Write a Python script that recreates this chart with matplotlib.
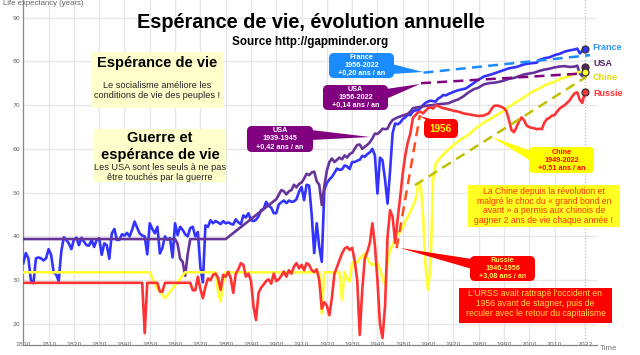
import matplotlib
matplotlib.use("Agg")
import matplotlib.pyplot as plt
from matplotlib.patches import FancyBboxPatch, Polygon, Rectangle

# ---------------- DATA ----------------
france_years = list(range(1800, 1969)) + [1970, 1972, 1975, 1978, 1980, 1982, 1985, 1988, 1990,
                                          1992, 1995, 1998, 2000, 2003, 2004, 2006, 2008, 2010,
                                          2012, 2014, 2016, 2018, 2019, 2020, 2021, 2022]
france_values = [
    33.9, 36.2, 35.0, 30.0, 29.3, 35.0, 35.2, 35.0, 34.5, 35.0,   # 1800
    37.1, 35.8, 31.8, 31.3, 29.8, 36.5, 39.8, 39.2, 38.4, 37.1,   # 1810
    39.3, 39.7, 38.0, 39.7, 38.8, 38.0, 37.9, 39.2, 37.6, 39.2,   # 1820
    39.6, 35.8, 38.4, 38.0, 34.9, 40.7, 41.7, 39.2, 39.2, 40.5,   # 1830
    40.2, 40.8, 40.0, 41.5, 43.4, 42.0, 40.7, 40.2, 40.0, 35.9,   # 1840
    43.0, 41.7, 40.7, 42.2, 36.1, 37.4, 40.0, 39.2, 39.6, 35.2,   # 1850
    43.0, 40.3, 42.2, 41.5, 40.5, 40.0, 41.9, 42.2, 40.0, 41.0,   # 1860
    33.0, 29.5, 42.5, 42.2, 43.7, 43.0, 43.5, 43.2, 42.8, 43.5,   # 1870
    43.0, 43.2, 42.9, 42.7, 43.9, 43.2, 42.8, 44.8, 44.3, 45.3,   # 1880
    43.7, 43.5, 43.8, 44.6, 46.0, 46.3, 47.9, 47.0, 46.6, 45.3,   # 1890
    45.3, 47.3, 47.8, 48.2, 47.6, 48.2, 47.9, 48.0, 48.5, 50.2,   # 1900
    51.3, 48.3, 51.8, 51.6, 45.0, 36.2, 43.0, 37.6, 34.2, 50.6,   # 1910
    52.2, 53.0, 53.6, 54.5, 55.5, 55.2, 55.3, 56.2, 56.0, 55.4,   # 1920
    57.0, 57.0, 57.3, 57.5, 58.4, 58.2, 58.8, 59.2, 60.0, 58.5,   # 1930
    49.8, 58.0, 57.4, 53.0, 47.5, 55.0, 63.6, 65.8, 65.6, 66.0,   # 1940
    66.8, 67.2, 67.8, 67.7, 68.5, 68.8, 68.8, 69.3, 70.0, 70.5,   # 1950
    70.8, 71.0, 70.9, 70.8, 71.5, 71.8, 72.3, 72.2, 72.5,         # 1960-1968
    73.0, 73.4, 73.8, 75.0, 75.8, 76.5, 77.0, 77.6, 78.0,
    78.4, 78.7, 79.3, 79.5, 79.7, 80.3, 80.7, 80.9, 81.4,
    81.7, 82.2, 82.5, 82.7, 82.9, 81.8, 82.4, 82.8]

usa_years = [1800, 1860, 1861, 1862, 1863, 1864, 1865, 1866, 1880, 1900] + list(range(1901, 1957)) + \
    [1958, 1960, 1962, 1964, 1966, 1968, 1970, 1972, 1974, 1976, 1978, 1980, 1982, 1984, 1986,
     1988, 1990, 1992, 1994, 1996, 1998, 2000, 2002, 2004, 2006, 2008, 2010, 2012, 2014, 2016,
     2018, 2019, 2020, 2021, 2022]
usa_values = [39.4, 39.4, 38.3, 34.9, 34.2, 31.0, 36.0, 39.4, 39.4, 48.5,
    49.5, 50.6, 50.3, 49.6, 50.3, 50.6, 51.8, 51.2, 52.0,          # 1901-1909
    52.3, 53.2, 54.3, 54.0, 54.6, 54.8, 52.6, 51.8, 47.2, 51.5,    # 1910
    55.0, 57.0, 57.8, 57.0, 57.5, 58.0, 57.6, 58.5, 58.0, 58.8,    # 1920
    59.1, 60.0, 60.9, 61.0, 60.0, 60.5, 60.9, 61.5, 62.4, 63.5,    # 1930
    63.4, 63.9, 64.6, 64.5, 64.6, 65.8, 66.6, 66.9, 67.2, 67.4,    # 1940
    67.6, 67.8, 68.0, 68.5, 69.3, 69.4, 69.5,                      # 1950-1956
    69.7, 69.9, 70.0, 70.2, 70.3, 70.4, 70.9, 71.3, 72.0, 72.9, 73.6, 74.0, 74.7, 75.0, 75.1,
    75.3, 75.6, 76.0, 76.2, 76.6, 77.0, 77.2, 77.4, 77.8, 78.1, 78.3, 78.6, 78.8, 78.9, 78.7,
    78.8, 79.0, 77.2, 76.6, 78.8]

china_years = [1800, 1850, 1851, 1853, 1854, 1856, 1864, 1876, 1877, 1878, 1879, 1880, 1917, 1918,
               1919, 1925, 1926, 1927] + list(range(1928, 1965)) + \
    [1966, 1968, 1970, 1972, 1974, 1976, 1978, 1980, 1982, 1984, 1986, 1988, 1990, 1992, 1994,
     1996, 1998, 2000, 2002, 2004, 2006, 2008, 2010, 2012, 2014, 2016, 2018, 2020, 2022]
china_values = [31.8, 31.8, 30.5, 28.0, 27.5, 25.9, 31.8, 31.8, 27.5, 25.1, 29.5, 31.8, 31.8, 22.4,
                31.8, 31.8, 25.5, 31.8,
    30.5, 29.7, 33.9, 34.3, 34.0, 35.0, 35.5, 36.1, 35.0, 33.9, 33.5, 33.7,   # 1928-1939
    33.9, 32.4, 30.5, 28.9, 34.3, 37.0, 38.0, 39.5, 40.3, 41.1,               # 1940
    42.0, 43.4, 44.5, 45.6, 47.0, 48.3, 51.3, 52.5, 45.0, 33.0,               # 1950
    27.8, 33.0, 53.0, 56.5, 57.5,                                             # 1960-1964
    58.7, 59.8, 60.8, 61.8, 62.5, 63.2, 64.3, 65.2, 66.0, 66.6, 67.3, 68.0, 68.7, 69.6, 70.4,
    71.0, 71.8, 72.6, 73.3, 73.8, 74.5, 74.9, 75.3, 75.9, 76.3, 76.7, 77.1, 77.6, 77.6]

russia_years = [1800, 1847, 1848, 1849, 1853, 1854, 1855, 1856, 1866] + list(range(1867, 1970)) + \
    [1970, 1972, 1974, 1976, 1978, 1980, 1982, 1984] + list(range(1985, 2023))
russia_values = [29.4, 29.4, 17.9, 29.4, 29.4, 27.4, 27.4, 29.4, 29.4,
    27.7, 27.7, 30.8,                                              # 1867-1869
    28.0, 25.9, 28.5, 30.4, 30.0, 31.2, 31.5, 30.5, 27.8, 31.2,    # 1870
    30.8, 31.9, 30.5, 27.1, 31.5, 32.5, 33.9, 33.5, 30.8, 31.5,    # 1880
    29.9, 24.0, 20.9, 27.1, 28.3, 29.0, 29.8, 30.2, 29.2, 31.5,    # 1890
    29.8, 30.2, 31.0, 32.0, 30.8, 32.3, 31.5, 33.1, 33.9, 32.7,    # 1900
    33.5, 32.3, 33.9, 33.5, 32.3, 31.9, 32.5, 30.0, 23.5, 25.0,    # 1910
    24.2, 22.0, 26.0, 31.5, 33.0, 34.6, 36.1, 37.2, 37.6, 36.9,    # 1920
    37.4, 34.5, 30.0, 17.5, 27.8, 35.0, 36.5, 38.5, 43.0, 38.0,    # 1930
    30.0, 20.0, 16.8, 24.0, 40.0, 46.0, 44.5, 38.5, 44.0, 49.0,    # 1940
    54.4, 58.5, 61.5, 63.5, 67.0, 67.7, 68.3, 68.5, 68.1, 68.7,    # 1950
    69.3, 69.5, 69.2, 69.9, 69.8, 69.5, 69.3, 69.2, 69.0, 68.9,    # 1960
    68.7, 68.5, 68.1, 67.9, 67.7, 67.5, 67.6, 68.1,
    69.0, 69.8, 69.9, 69.8, 69.6, 69.3, 68.6, 66.6, 64.3, 63.8,    # 1985-1994
    65.0, 66.3, 67.2, 66.5, 65.3, 65.0, 64.8, 64.7, 64.5, 64.6,    # 1995-2004
    64.5, 66.0, 66.8, 67.1, 67.6, 67.7, 68.5, 69.2, 69.6, 70.0,    # 2005-2014
    70.5, 71.1, 72.0, 72.7, 72.9, 71.2, 70.5, 72.9]                # 2015-2022

# hand-drawn trend lines of the original chart
france_trend_years = [1958.2, 2024.0]
france_trend_values = [77.4, 81.4]
usa_trend_years = [1957.2, 2020.8]
usa_trend_values = [75.0, 77.2]
china_trend_years = [1954.8, 2022.7]
china_trend_values = [51.7, 76.5]
russia_trend_years = [1947.6, 1956.8]
russia_trend_values = [37.3, 67.7]

x_ticks = list(range(1800, 2011, 10)) + [2022]
y_ticks = [20, 30, 40, 50, 60, 70, 80, 90]

# ---------------- FIGURE ----------------
W, H = 640, 355
FONT = "Liberation Sans"
fig = plt.figure(figsize=(W / 100, H / 100), dpi=100)
ax = fig.add_axes([23.3 / W, 10 / H, (597 - 23.3) / W, 345 / H])
ax.set_xlim(1800, 2026.8)
ax.set_ylim(15.2, 94.0)

ax.set_xticks(x_ticks)
ax.set_yticks(y_ticks)
ax.set_xticklabels([str(t) for t in x_ticks])
ax.grid(True, color="#e6e6e6", lw=0.9, zorder=0)
ax.set_axisbelow(True)
xgl = ax.get_xgridlines()
xgl[-1].set_linestyle((0, (1, 1.5)))
xgl[-1].set_color("#bbbbbb")
for s in ["top", "right"]:
    ax.spines[s].set_visible(False)
for s in ["left", "bottom"]:
    ax.spines[s].set_color("#888888")
    ax.spines[s].set_linewidth(0.9)
ax.tick_params(axis="x", length=0, pad=-2.2, labelsize=4.4, labelcolor="#666666")
ax.tick_params(axis="y", length=0, pad=2, labelsize=4.4, labelcolor="#666666")

LW = 1.9
ax.plot(france_years, france_values, color="#3333ff", lw=LW, solid_joinstyle="round", zorder=3)
ax.plot(usa_years, usa_values, color="#663399", lw=LW, solid_joinstyle="round", zorder=3)
ax.plot(china_years, china_values, color="#ffff33", lw=LW, solid_joinstyle="round", zorder=3)
ax.plot(russia_years, russia_values, color="#ff3333", lw=LW, solid_joinstyle="round", zorder=4)

DASH = (0, (4, 2.5))
ax.plot(france_trend_years, france_trend_values, color="#1a8cff", lw=1.8, ls=DASH, zorder=5)
ax.plot(usa_trend_years, usa_trend_values, color="#800080", lw=1.8, ls=DASH, zorder=5)
ax.plot(china_trend_years, china_trend_values, color="#c0c000", lw=1.8, ls=DASH, zorder=5)
ax.plot(russia_trend_years, russia_trend_values, color="#ff4d1a", lw=1.8, ls=DASH, zorder=5)

for yrs, vals, col in [(france_years, france_values, "#3333ff"),
                       (usa_years, usa_values, "#552266"),
                       (china_years, china_values, "#ffff33"),
                       (russia_years, russia_values, "#ff3333")]:
    ax.plot([yrs[-1]], [vals[-1]], "o", ms=5, mfc=col, mec="#333333", mew=0.9,
            zorder=6, clip_on=False)

# ---------------- OVERLAY (pixel coordinates) ----------------
ov = fig.add_axes([0, 0, 1, 1])
ov.set_xlim(0, W)
ov.set_ylim(H, 0)
ov.axis("off")
ov.patch.set_alpha(0)


def txt(x, y, s, size, color="black", bold=False, ha="center", va="center"):
    ov.text(x, y, s, fontsize=size, color=color, ha=ha, va=va, family=FONT,
            fontweight="bold" if bold else "normal", zorder=5)


def lines(x, ys, strings, size, color="black", bold=False):
    for y, s in zip(ys, strings):
        txt(x, y, s, size, color=color, bold=bold)


def callout(x0, y0, w, h, fc, pointer, strings, tcolor, size=5.2):
    ov.add_patch(Polygon(pointer, closed=True, fc=fc, ec="none", zorder=2))
    ov.add_patch(FancyBboxPatch((x0, y0), w, h, boxstyle="round,pad=0,rounding_size=5",
                                fc=fc, ec="none", zorder=3))
    n = len(strings)
    step = 8.0
    yc = y0 + h / 2
    ys = [yc + (i - (n - 1) / 2) * step for i in range(n)]
    lines(x0 + w / 2, ys, strings, size, color=tcolor, bold=True)


txt(3, 3.5, "Life expectancy (years)", 5.6, color="#666666", ha="left")
txt(600, 349, "Time", 5.8, color="#777777", ha="left")

txt(311, 23, "Espérance de vie, évolution annuelle", 14.3, bold=True)
txt(310, 42, "Source http://gapminder.org", 8.4, bold=True)

ov.add_patch(Rectangle((91, 52), 132, 56, fc="#ffffcc", ec="none"))
txt(157, 63, "Espérance de vie", 10.5, bold=True)
lines(157, [86, 96], ["Le socialisme améliore les", "conditions de vie des peuples !"],
      6.6, color="#222222")

ov.add_patch(Rectangle((94, 129), 132, 53, fc="#ffffcc", ec="none"))
lines(160, [138, 155], ["Guerre et", "espérance de vie"], 10.5, bold=True)
lines(160, [168, 178], ["Les USA sont les seuls à ne pas", "être touchés par la guerre"],
      6.6, color="#222222")

callout(329, 53, 65, 25, "#1a8cff", [(392, 64), (392, 74), (423, 72)],
        ["France", "1956-2022", "+0,20 ans / an"], "white")
callout(323, 85, 65, 25, "#800080", [(386, 89), (386, 99), (420, 84)],
        ["USA", "1956-2022", "+0,14 ans / an"], "white")
callout(247, 126, 66, 26, "#800080", [(311, 130), (311, 140), (370, 137)],
        ["USA", "1939-1945", "+0,42 ans / an"], "white")
callout(424, 119, 34, 19, "#ff0000", [(426, 120), (434, 120), (420, 116)],
        ["1956"], "#ffff00", size=7.2)
callout(529, 147, 65, 26, "#ffff00", [(531, 151), (531, 161), (492, 137)],
        ["Chine", "1949-2022", "+0,51 ans / an"], "#ff0000")
callout(470, 256, 65, 25, "#ff0000", [(472, 259), (472, 269), (400, 248)],
        ["Russie", "1946-1956", "+3,08 ans / an"], "#ffee55")

ov.add_patch(Rectangle((468, 185), 152, 42, fc="#ffff22", ec="none"))
lines(544, [191.7, 201, 210.7, 220.3],
      ["La Chine depuis la révolution et", "malgré le choc du « grand bond en",
       "avant » a permis aux chinois de", "gagner 2 ans de vie chaque année !"],
      6.2, color="#ff3300")
ov.add_patch(Rectangle((459, 288), 153, 35, fc="#ff0000", ec="none"))
lines(535.5, [294, 303.5, 313.3],
      ["L'URSS avait rattrapé l'occident en", "1956 avant de stagner, puis de",
       "reculer avec le retour du capitalisme"], 6.2, color="#ffdd44")

txt(592, 48, "France", 6.5, color="#3399ff", bold=True, ha="left")
txt(593, 63, "USA", 6.5, color="#552266", bold=True, ha="left")
txt(593, 77, "Chine", 6.5, color="#dddd00", bold=True, ha="left")
txt(593, 94, "Russie", 6.5, color="#ff3333", bold=True, ha="left")

fig.savefig("out.png", dpi=100)
